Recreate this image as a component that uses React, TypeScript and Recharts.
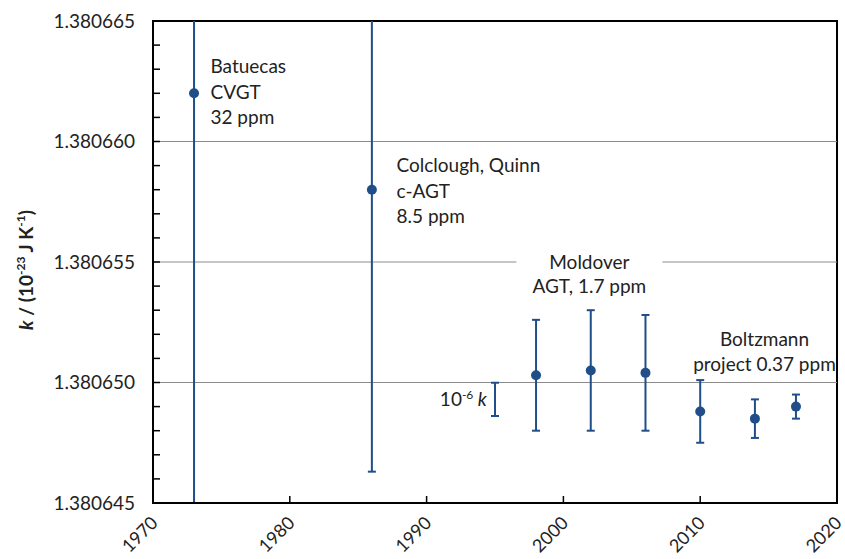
import { useEffect, useRef } from "react";
import { ScatterChart, Scatter, XAxis, YAxis, ErrorBar, ReferenceLine, ReferenceArea, ReferenceDot } from "recharts";

// measurements of the Boltzmann constant, k in 10^-23 J/K
const years = [1973, 1986, 1998, 2002, 2006, 2010, 2014, 2017];
const kValues = [1.380662, 1.380658, 1.3806503, 1.3806505, 1.3806504, 1.3806488, 1.3806485, 1.380649];
const kUncertainty = [0.0000442, 0.0000117, 0.0000023, 0.0000025, 0.0000024, 0.0000013, 0.0000008, 0.0000005];

// the "10^-6 k" scale bar
const scaleYear = [1995];
const scaleK = [1.3806493];
const scaleHalf = [0.00000069];

const xTicks = [1970, 1980, 1990, 2000, 2010, 2020];
const yTicks = [
  1.380645, 1.380646, 1.380647, 1.380648, 1.380649, 1.38065, 1.380651, 1.380652, 1.380653, 1.380654,
  1.380655, 1.380656, 1.380657, 1.380658, 1.380659, 1.38066, 1.380661, 1.380662, 1.380663, 1.380664, 1.380665,
];
const gridValues = [1.38065, 1.380655, 1.38066];

const noteX = [1974.2, 1987.8, 2001.9, 2014.7];
const noteY = [1.3806631, 1.380659, 1.380655, 1.3806518];
const noteLines = [
  ["Batuecas", "CVGT", "32 ppm"],
  ["Colclough, Quinn", "c-AGT", "8.5 ppm"],
  ["Moldover", "AGT, 1.7 ppm"],
  ["Boltzmann", "project 0.37 ppm"],
];

const BLUE = "#1f4e89";
const FONT = "Lato, sans-serif";
const TEXT = "#222";
const FS = 19;

const data = years.map((x, i) => ({ x, y: kValues[i], err: kUncertainty[i] }));
const scaleData = scaleYear.map((x, i) => ({ x, y: scaleK[i], err: scaleHalf[i] }));

const YTick = (p: any) => {
  const v = p.payload.value;
  const major = Math.round(v * 1e6) % 5 === 0;
  const ax = p.x + 18;
  return (
    <g>
      <line x1={ax} x2={ax + 7} y1={p.y} y2={p.y} stroke="#000" strokeWidth={1.5} />
      {major && (
        <text x={p.x} y={p.y} dy="0.36em" textAnchor="end" fontSize={FS} fontFamily={FONT} fill={TEXT}>
          {v.toFixed(6)}
        </text>
      )}
    </g>
  );
};

const XTick = (p: any) => {
  const ay = p.y - 20;
  const tx = p.x + 6;
  const ty = p.y + 1;
  return (
    <g>
      <line x1={p.x} x2={p.x} y1={ay} y2={ay - 7} stroke="#000" strokeWidth={1.5} />
      <text x={tx} y={ty} transform={`rotate(-45, ${tx}, ${ty})`} textAnchor="end" fontSize={18} fontFamily={FONT} fill={TEXT}>
        {p.payload.value}
      </text>
    </g>
  );
};

const YLabel = (p: any) => {
  const vb = p.viewBox;
  const cx = vb.x + 26;
  const cy = vb.y + vb.height / 2 + 8;
  return (
    <text x={cx} y={cy} transform={`rotate(-90, ${cx}, ${cy})`} textAnchor="middle" dy="0.35em" fontSize={19} fontWeight="bold" fontFamily={FONT} fill={TEXT}>
      <tspan fontStyle="italic">k</tspan>
      <tspan> / (10</tspan>
      <tspan fontSize={12} dy={-8}>-23</tspan>
      <tspan dy={8}> J K</tspan>
      <tspan fontSize={12} dy={-8}>-1</tspan>
      <tspan dy={8}>)</tspan>
    </text>
  );
};

const Note = (idx: number) => (p: any) => {
  const lines = noteLines[idx];
  const anchor = idx < 2 ? "start" : "middle";
  const gap = idx === 2 ? 24 : 25.5;
  return (
    <g>
      {idx === 2 && <rect x={p.cx - 73} y={p.cy - 14} width={146} height={50} fill="#fff" />}
      {lines.map((t, i) => (
        <text key={i} x={p.cx} y={p.cy + i * gap} dy="0.35em" textAnchor={anchor} fontSize={FS} fontFamily={FONT} fill={TEXT}>
          {t}
        </text>
      ))}
    </g>
  );
};

const ScaleNote = (p: any) => (
  <text x={p.cx} y={p.cy} dy="0.35em" textAnchor="end" fontSize={FS} fontFamily={FONT} fill={TEXT}>
    10<tspan fontSize={12} dy={-7}>-6</tspan>
    <tspan dy={7} fontStyle="italic"> k</tspan>
  </text>
);

export default function App() {
  const ref = useRef<HTMLDivElement>(null);

  // error bars run past the axes; clip them to the plot area like the original
  useEffect(() => {
    const root = ref.current;
    if (!root) return;
    const apply = () => {
      const svg = root.querySelector("svg");
      const area = root.querySelector(".recharts-reference-area-rect") as SVGGraphicsElement | null;
      if (!svg || !area) return;
      let cp = svg.querySelector("#plotClip");
      if (!cp) {
        const ns = "http://www.w3.org/2000/svg";
        const b = area.getBBox();
        const defs = document.createElementNS(ns, "defs");
        cp = document.createElementNS(ns, "clipPath");
        cp.setAttribute("id", "plotClip");
        const r = document.createElementNS(ns, "rect");
        r.setAttribute("x", String(b.x));
        r.setAttribute("y", String(b.y));
        r.setAttribute("width", String(b.width));
        r.setAttribute("height", String(b.height));
        cp.appendChild(r);
        defs.appendChild(cp);
        svg.insertBefore(defs, svg.firstChild);
      }
      root.querySelectorAll(".recharts-errorBars").forEach((g) => {
        if (g.getAttribute("clip-path") !== "url(#plotClip)") g.setAttribute("clip-path", "url(#plotClip)");
      });
    };
    apply();
    const obs = new MutationObserver(apply);
    obs.observe(root, { childList: true, subtree: true });
    return () => obs.disconnect();
  }, []);

  return (
    <div ref={ref} style={{ position: "absolute", left: 0, top: 0, background: "#fff" }}>
      <ScatterChart width={845} height={559} margin={{ top: 21, right: 8, bottom: 0, left: 0 }}>
        <XAxis
          type="number"
          dataKey="x"
          domain={[1970, 2020]}
          ticks={xTicks}
          allowDataOverflow
          height={56}
          tickSize={0}
          tickMargin={20}
          tickLine={false}
          axisLine={{ stroke: "#000", strokeWidth: 2 }}
          tick={<XTick />}
          interval={0}
        />
        <YAxis
          type="number"
          dataKey="y"
          domain={[1.380645, 1.380665]}
          ticks={yTicks}
          allowDataOverflow
          width={153}
          tickSize={0}
          tickMargin={18}
          tickLine={false}
          axisLine={{ stroke: "#000", strokeWidth: 2 }}
          tick={<YTick />}
          interval={0}
          label={{ content: <YLabel /> }}
        />
        {gridValues.map((v) => (
          <ReferenceLine key={v} y={v} stroke="#8c8c8c" strokeWidth={1} />
        ))}
        <ReferenceArea x1={1970} x2={2020} y1={1.380645} y2={1.380665} fill="none" stroke="#000" strokeWidth={2} fillOpacity={0} />
        {noteX.map((x, i) => (
          <ReferenceDot key={i} x={x} y={noteY[i]} r={0} shape={Note(i)} />
        ))}
        <ReferenceDot x={1994.4} y={1.3806493} r={0} shape={ScaleNote} />
        <Scatter data={scaleData} fill={BLUE} shape={() => <g />} isAnimationActive={false}>
          <ErrorBar dataKey="err" direction="y" width={4} strokeWidth={2} stroke={BLUE} isAnimationActive={false} />
        </Scatter>
        <Scatter data={data} fill={BLUE} isAnimationActive={false} shape={(p: any) => <circle cx={p.cx} cy={p.cy} r={5} fill={BLUE} />}>
          <ErrorBar dataKey="err" direction="y" width={4} strokeWidth={2} stroke={BLUE} isAnimationActive={false} />
        </Scatter>
      </ScatterChart>
    </div>
  );
}
